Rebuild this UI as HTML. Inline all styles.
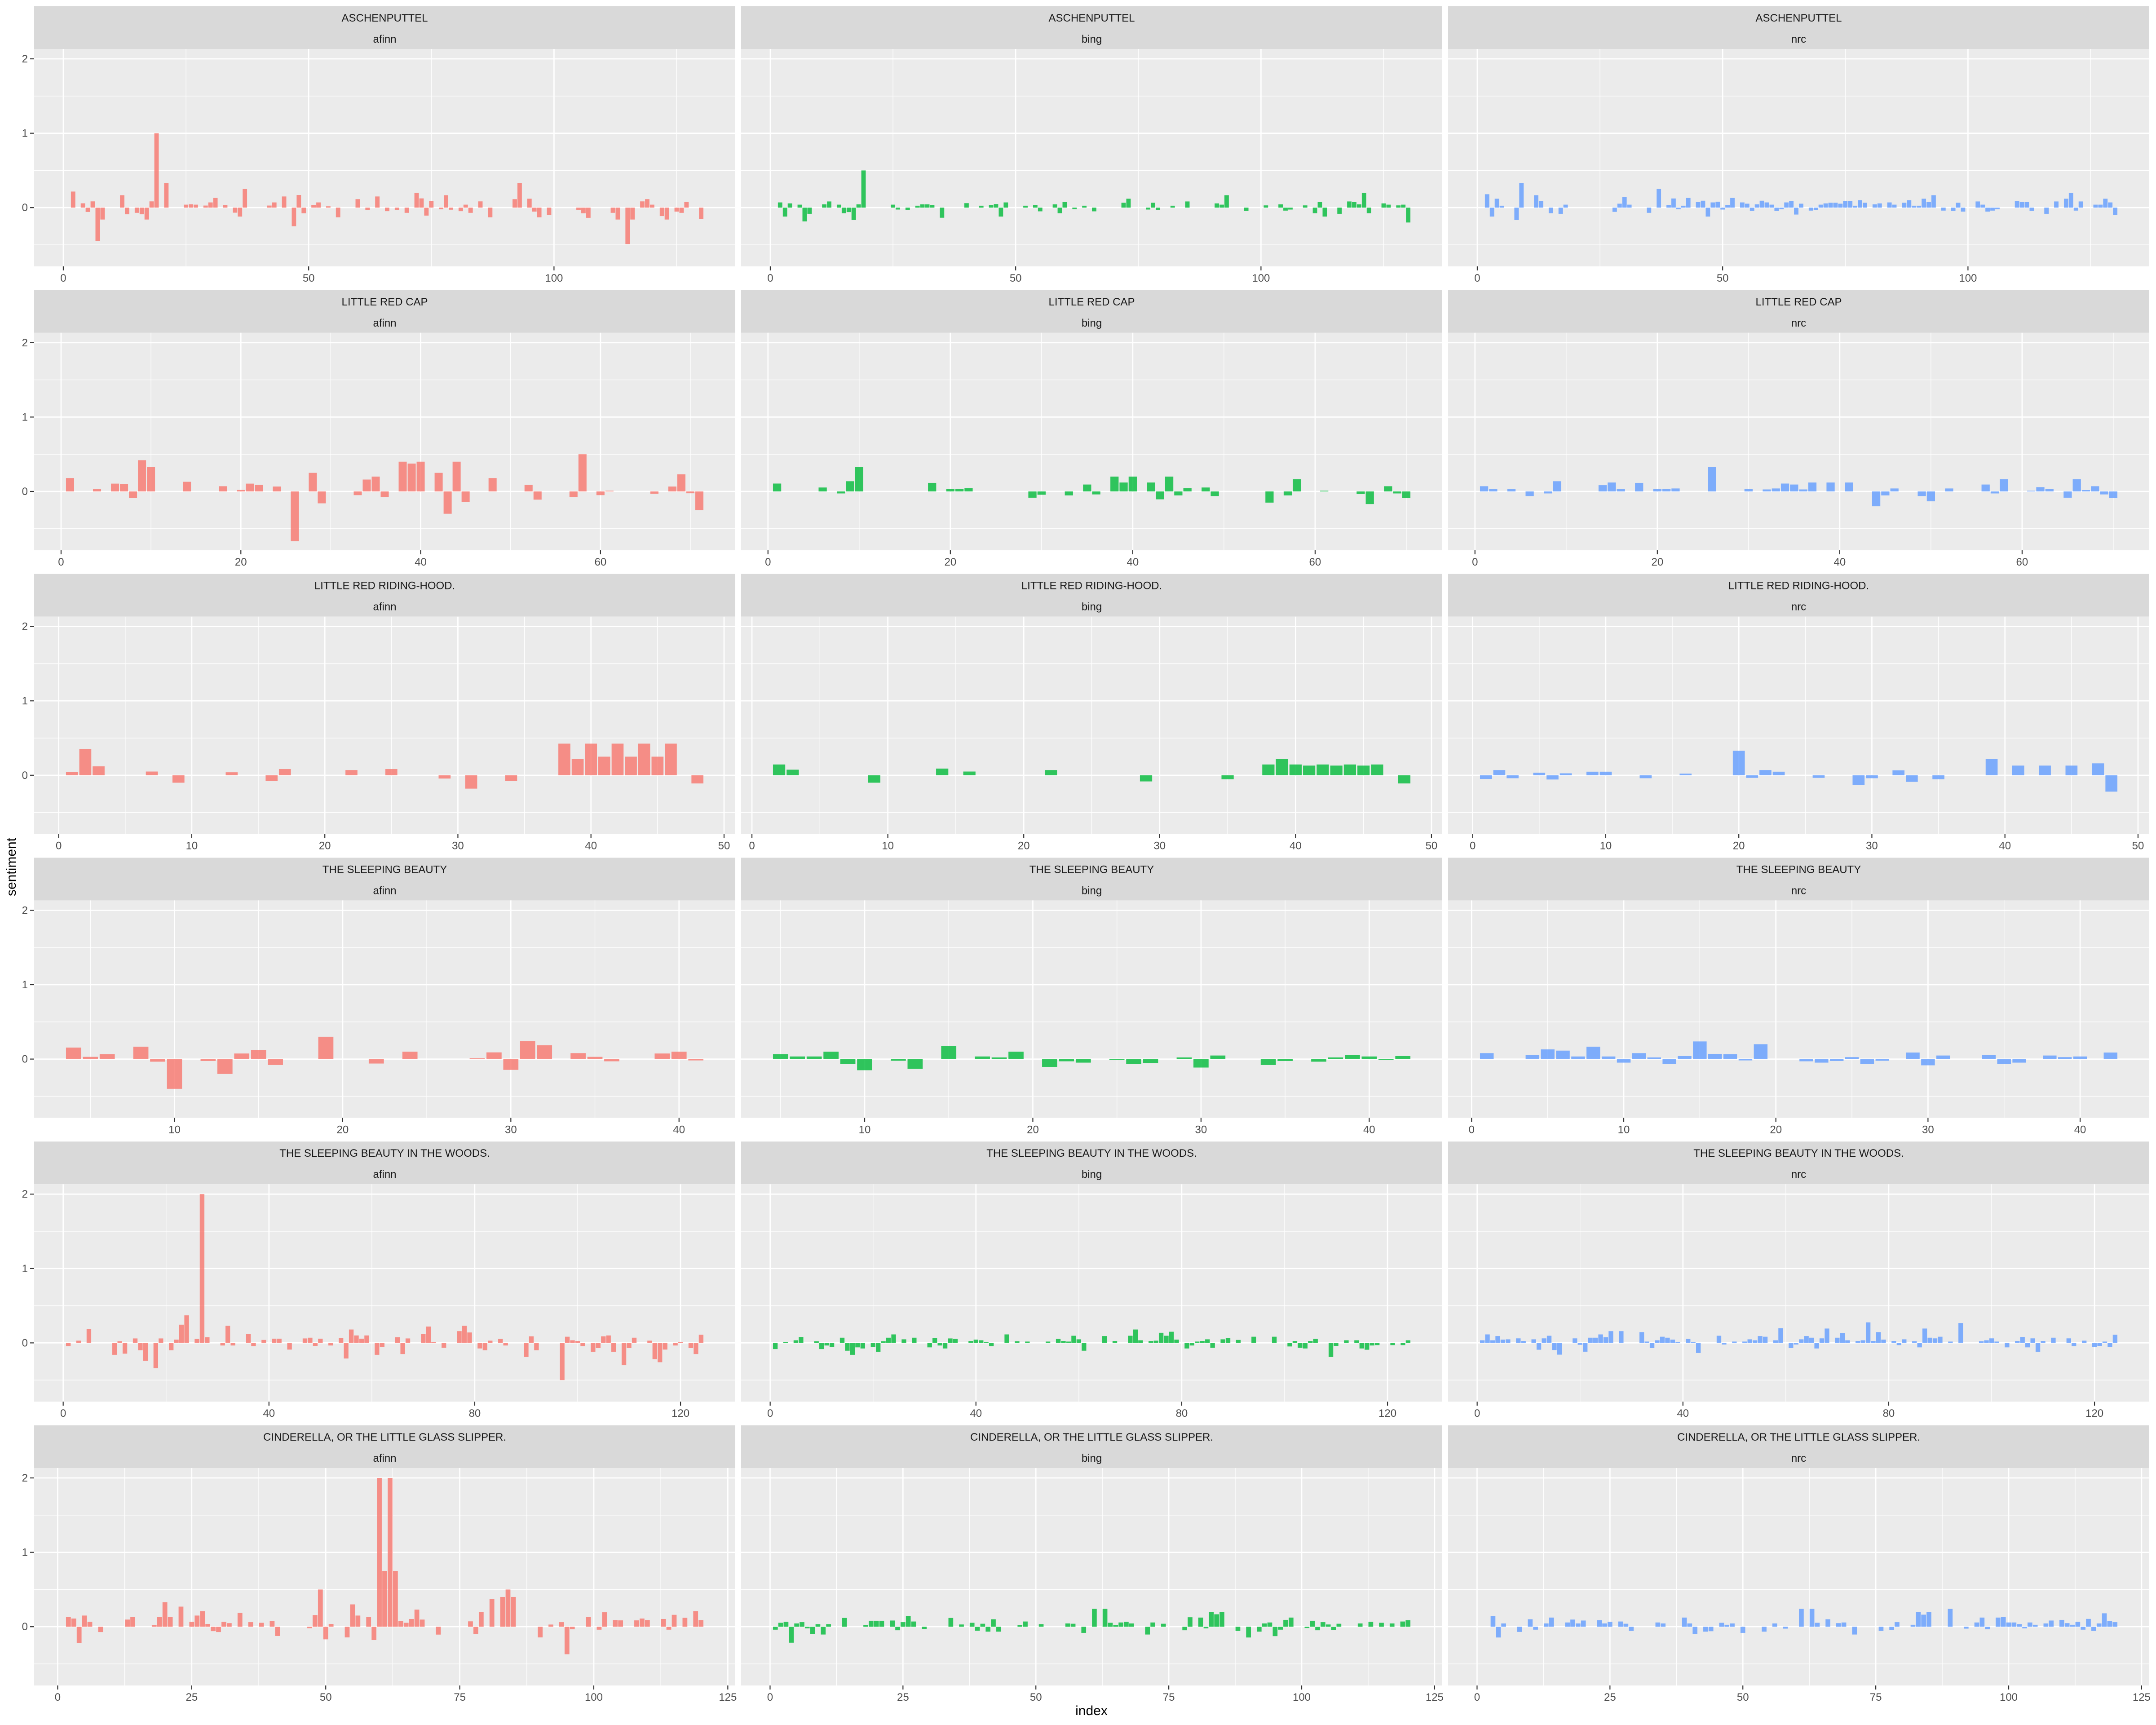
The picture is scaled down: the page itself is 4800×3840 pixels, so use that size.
<!DOCTYPE html>
<html><head><meta charset="utf-8"><title>Sentiment by index</title>
<style>
html,body{margin:0;padding:0;background:#fff;}
svg{display:block;font-family:"Liberation Sans",Arial,sans-serif;}
</style></head>
<body>
<svg id="chart" xmlns="http://www.w3.org/2000/svg" width="4800" height="3840" viewBox="0 0 4800 3840">
<rect x="0" y="0" width="4800" height="3840" fill="#ffffff"/>
<text x="2430" y="3818" font-size="30" text-anchor="middle" fill="#000">index</text>
<text x="0" y="0" font-size="30" text-anchor="middle" fill="#000" transform="translate(35,1930) rotate(-90)">sentiment</text>
<g id="panels"></g>
</svg>
<script>
// ---- data: [index, sentiment] per story / lexicon ----
const stories = ["ASCHENPUTTEL","LITTLE RED CAP","LITTLE RED RIDING-HOOD.","THE SLEEPING BEAUTY","THE SLEEPING BEAUTY IN THE WOODS.","CINDERELLA, OR THE LITTLE GLASS SLIPPER."];
const lexicons = ["afinn","bing","nrc"];
const xTickStep = [50,20,10,10,40,25];
const yTicks = [0,1,2];
const yMinor = [-0.5,0.5,1.5];

const r1_afinn=[[1,0],[2,.216],[4,.058],[5,-.058],[6,.084],[7,-.45],[8,-.16],[12,.167],[13,-.09],[15,-.07],[16,-.09],[17,-.16],[18,.084],[19,1],[21,.33],[25,.04],[26,.045],[27,.04],[29,.028],[30,.07],[31,.13],[33,.035],[35,-.068],[36,-.12],[37,.25],[42,.028],[43,.07],[45,.15],[47,-.25],[48,.17],[49,-.076],[51,.035],[52,.07],[54,.018],[56,-.13],[60,.114],[62,-.035],[64,.15],[66,-.048],[68,-.035],[70,-.07],[72,.2],[73,.124],[74,-.107],[75,.09],[77,-.023],[78,.167],[79,-.028],[81,-.048],[82,.04],[83,-.07],[85,.084],[87,-.13],[92,.114],[93,.33],[95,.12],[96,-.053],[97,-.13],[99,-.1],[105,-.035],[106,-.076],[107,-.137],[112,-.07],[113,-.16],[115,-.49],[116,-.16],[118,.084],[119,.114],[120,.04],[122,-.114],[123,-.16],[125,-.053],[126,-.07],[127,.076],[130,-.15]];
const r1_bing=[[1,0],[2,.07],[3,-.12],[4,.057],[6,.04],[7,-.185],[8,-.083],[11,.044],[12,.083],[14,.04],[15,-.075],[16,-.06],[17,-.167],[18,.044],[19,.5],[25,.04],[26,-.026],[28,-.035],[30,.026],[31,.044],[32,.044],[33,.035],[35,-.136],[40,.06],[43,.026],[45,.035],[46,.048],[47,-.12],[48,.07],[52,.026],[54,.035],[55,-.05],[58,.044],[59,-.075],[60,.075],[62,-.02],[64,.026],[66,-.05],[72,.066],[73,.12],[77,-.026],[78,.066],[79,-.035],[82,.026],[85,.083],[91,.057],[92,.04],[93,.167],[97,-.044],[101,.03],[104,.044],[105,-.04],[106,-.026],[109,.03],[111,-.075],[112,.075],[113,-.12],[116,-.083],[118,.083],[119,.075],[120,.044],[121,.2],[122,-.075],[125,.057],[126,.04],[128,.03],[129,.04],[130,-.2]];
const r1_nrc=[[1,0],[2,.18],[3,-.12],[4,.12],[5,.026],[8,-.167],[9,.33],[12,.167],[13,.088],[15,-.075],[17,-.083],[18,.04],[28,-.057],[29,.053],[30,.14],[31,.04],[35,-.07],[37,.25],[39,.035],[40,.123],[41,-.022],[42,.026],[43,.13],[45,.075],[46,.093],[47,-.12],[48,.07],[49,.08],[50,-.026],[51,.035],[52,.13],[54,.07],[55,.053],[56,-.044],[57,.044],[58,.093],[59,.07],[60,.04],[61,-.044],[62,-.022],[63,.07],[64,.088],[65,-.093],[66,.053],[68,-.04],[69,-.035],[70,.04],[71,.057],[72,.066],[73,.066],[74,.053],[75,.088],[76,.088],[77,.026],[78,.1],[79,.066],[81,.044],[82,.057],[84,.07],[85,.04],[87,.066],[88,.1],[89,.026],[90,.026],[91,.12],[92,.075],[93,.167],[95,-.04],[97,-.044],[98,.066],[99,-.053],[102,.083],[103,.04],[104,-.053],[105,-.04],[106,-.022],[110,.088],[111,.075],[112,.075],[113,-.044],[116,-.083],[118,.083],[120,.12],[121,.2],[122,-.04],[123,.083],[126,.04],[127,.04],[128,.12],[129,.07],[130,-.1]];

const r2_afinn=[[1,.18],[4,.03],[6,.105],[7,.1],[8,-.09],[9,.42],[10,.33],[14,.13],[18,.07],[20,.02],[21,.105],[22,.09],[24,.066],[26,-.67],[28,.25],[29,-.16],[33,-.05],[34,.16],[35,.2],[36,-.075],[38,.4],[39,.375],[40,.4],[42,.25],[43,-.3],[44,.4],[45,-.14],[48,.18],[52,.09],[53,-.11],[57,-.075],[58,.5],[60,-.05],[61,.01],[66,-.03],[68,.066],[69,.23],[70,-.025],[71,-.25]];
const r2_bing=[[1,.106],[6,.053],[8,-.027],[9,.137],[10,.33],[18,.115],[20,.035],[21,.035],[22,.044],[29,-.084],[30,-.044],[33,-.053],[35,.093],[36,-.04],[38,.2],[39,.12],[40,.2],[42,.12],[43,-.106],[44,.2],[45,-.053],[46,.044],[48,.053],[49,-.062],[55,-.15],[57,-.053],[58,.164],[61,.01],[65,-.035],[66,-.17],[68,.07],[69,-.027],[70,-.088]];
const r2_nrc=[[1,.07],[2,.03],[4,.03],[6,-.062],[8,-.027],[9,.137],[14,.084],[15,.12],[16,.03],[18,.115],[20,.035],[21,.035],[22,.04],[26,.33],[30,.035],[32,.027],[33,.04],[34,.106],[35,.093],[36,.027],[37,.12],[39,.12],[41,.12],[44,-.2],[45,-.053],[46,.04],[49,-.062],[50,-.133],[52,.04],[56,.093],[57,-.027],[58,.164],[61,.01],[62,.058],[63,.035],[65,-.084],[66,.164],[67,.018],[68,.07],[69,-.04],[70,-.088]];

const r3_afinn=[[1,.044],[2,.355],[3,.12],[7,.05],[9,-.1],[13,.04],[16,-.075],[17,.083],[22,.07],[25,.083],[29,-.044],[31,-.18],[34,-.075],[38,.425],[39,.22],[40,.425],[41,.25],[42,.425],[43,.25],[44,.425],[45,.25],[46,.425],[48,-.11]];
const r3_bing=[[2,.145],[3,.075],[9,-.1],[14,.09],[16,.05],[22,.07],[29,-.083],[35,-.053],[38,.145],[39,.22],[40,.145],[41,.13],[42,.145],[43,.13],[44,.145],[45,.13],[46,.145],[48,-.11]];
const r3_nrc=[[1,-.05],[2,.07],[3,-.04],[5,.035],[6,-.057],[7,.026],[9,.048],[10,.048],[13,-.04],[16,.022],[20,.33],[21,-.035],[22,.07],[23,.048],[26,-.035],[29,-.13],[30,-.04],[32,.066],[33,-.088],[35,-.053],[39,.22],[41,.13],[43,.13],[45,.13],[47,.16],[48,-.22]];

const r4_afinn=[[4,.155],[5,.03],[6,.066],[8,.167],[9,-.035],[10,-.4],[12,-.026],[13,-.2],[14,.075],[15,.12],[16,-.08],[19,.3],[22,-.06],[24,.1],[28,.01],[29,.09],[30,-.145],[31,.24],[32,.185],[34,.08],[35,.03],[36,-.03],[39,.075],[40,.1],[41,-.018]];
const r4_bing=[[5,.066],[6,.035],[7,.035],[8,.1],[9,-.066],[10,-.15],[12,-.022],[13,-.13],[15,.175],[17,.035],[18,.022],[19,.1],[21,-.105],[22,-.03],[23,-.048],[25,-.01],[26,-.066],[27,-.053],[29,.022],[30,-.114],[31,.048],[34,-.08],[35,-.026],[37,-.035],[38,.022],[39,.053],[40,.035],[41,-.01],[42,.04]];
const r4_nrc=[[1,.08],[4,.053],[5,.13],[6,.114],[7,.035],[8,.167],[9,.035],[10,-.048],[11,.08],[12,.022],[13,-.066],[14,.04],[15,.237],[16,.07],[17,.066],[18,-.018],[19,.2],[22,-.03],[23,-.048],[24,-.026],[25,.026],[26,-.066],[27,-.022],[29,.088],[30,-.084],[31,.048],[34,.053],[35,-.066],[36,-.048],[38,.048],[39,.026],[40,.035],[42,.088]];

const r5_afinn=[[1,-.044],[3,.03],[5,.185],[10,-.16],[11,.022],[12,-.145],[14,.06],[15,-.1],[16,-.24],[18,-.34],[19,.06],[21,-.1],[22,.044],[23,.245],[24,.37],[26,.053],[27,2],[28,.075],[31,-.035],[32,.23],[33,-.035],[36,.12],[37,-.044],[39,.04],[41,.057],[42,.057],[44,-.09],[47,.06],[48,.07],[49,-.04],[50,.057],[52,-.035],[54,.066],[55,-.21],[56,.18],[57,.1],[58,.057],[59,.1],[61,-.16],[62,-.057],[65,.075],[66,-.15],[67,.06],[70,.123],[71,.22],[72,.013],[74,-.066],[77,.158],[78,.23],[79,.14],[81,-.075],[82,-.1],[83,.03],[85,.053],[86,-.035],[90,-.19],[91,.088],[92,-.1],[97,-.5],[98,.083],[99,.035],[100,.026],[101,-.044],[103,-.12],[104,-.07],[105,.088],[106,.1],[107,-.12],[109,-.3],[110,-.07],[111,.07],[114,.03],[115,-.22],[116,-.26],[117,-.09],[119,-.035],[120,.013],[122,-.07],[123,-.15],[124,.11]];
const r5_bing=[[1,-.083],[3,.013],[5,.035],[6,.08],[9,.022],[10,-.083],[11,-.035],[12,-.057],[14,.07],[15,-.105],[16,-.16],[17,-.06],[18,-.075],[20,-.057],[21,-.12],[22,.022],[23,.07],[24,.114],[26,.048],[28,.07],[31,-.06],[32,.066],[33,-.035],[34,-.075],[35,.06],[36,.053],[39,.026],[40,.044],[41,.035],[42,.01],[43,-.044],[46,.114],[48,.022],[50,.018],[54,.018],[56,.053],[57,.026],[58,.018],[59,.096],[60,.048],[61,-.105],[65,.092],[67,.026],[70,.096],[71,.18],[72,.035],[74,.026],[75,.03],[76,.136],[77,.096],[78,.15],[79,.044],[81,-.075],[82,-.035],[83,.018],[84,.026],[85,.048],[86,-.066],[88,.048],[89,.066],[91,.04],[94,.083],[98,.083],[101,-.048],[102,.026],[103,-.066],[104,-.075],[105,.026],[106,.053],[109,-.19],[110,-.04],[112,.035],[114,.035],[115,-.075],[116,-.092],[117,-.035],[118,-.03],[121,-.03],[123,-.03],[124,.035]];
const r5_nrc=[[1,.035],[2,.114],[3,.035],[4,.092],[5,.044],[6,.048],[8,.061],[9,.026],[11,.048],[12,-.092],[13,.061],[14,.096],[15,-.096],[16,-.158],[19,.061],[20,-.026],[21,-.118],[22,.07],[23,.07],[24,.114],[25,.075],[26,.158],[28,.158],[32,.145],[33,.018],[34,-.07],[35,.035],[36,.083],[37,.07],[38,.044],[39,.01],[41,.053],[42,.01],[43,-.136],[47,.096],[48,-.022],[50,.018],[52,.018],[53,.048],[54,.035],[55,.092],[56,.083],[58,.035],[59,.197],[61,-.07],[62,-.022],[63,.048],[64,.092],[65,.07],[66,-.075],[67,.061],[68,.193],[70,.07],[71,.13],[72,.035],[74,.026],[75,.035],[76,.276],[77,.026],[78,.145],[79,.044],[81,.026],[82,-.03],[83,.048],[85,.022],[86,-.06],[87,.193],[88,.07],[89,.061],[90,.083],[92,.018],[94,.267],[98,.022],[99,.035],[100,.061],[101,.018],[103,-.06],[105,.026],[106,.08],[107,-.06],[108,.061],[109,-.12],[110,.026],[112,.07],[115,.061],[116,-.044],[118,.03],[120,-.053],[121,-.04],[122,.018],[123,-.053],[124,.11]];

const r6_afinn=[[2,.128],[3,.11],[4,-.22],[5,.15],[6,.066],[8,-.072],[13,.096],[14,.128],[18,.024],[19,.128],[20,.33],[21,.128],[23,.27],[25,.066],[26,.15],[27,.21],[28,.037],[29,-.06],[30,-.072],[31,.066],[32,.048],[34,.186],[36,.061],[38,.053],[40,.077],[41,-.125],[47,-.02],[48,.157],[49,.5],[50,-.17],[51,.037],[54,-.144],[55,.3],[56,.15],[58,.128],[59,-.18],[60,2],[61,.75],[62,2],[63,.75],[64,.077],[65,.053],[66,.104],[67,.23],[68,.096],[71,-.106],[77,.072],[78,-.1],[79,.2],[81,.375],[83,.4],[84,.5],[85,.4],[90,-.144],[92,.029],[94,.061],[95,-.37],[96,-.035],[99,.133],[101,-.04],[102,.194],[104,.09],[105,.085],[108,.085],[109,.11],[110,.09],[113,.104],[114,-.04],[115,.16],[117,.12],[119,.21],[120,.09]];
const r6_bing=[[1,-.04],[2,.053],[3,.066],[4,-.215],[5,.044],[6,.061],[7,-.022],[8,-.1],[9,.035],[10,-.105],[11,.035],[14,.118],[18,.022],[19,.08],[20,.08],[21,.08],[23,.083],[24,-.048],[25,.061],[26,.145],[27,.07],[29,-.03],[34,.118],[36,.03],[38,.053],[39,-.053],[40,.04],[41,-.066],[42,.1],[43,-.066],[47,.022],[48,.07],[51,.035],[56,.044],[57,.04],[59,-.083],[61,.24],[63,.24],[64,.053],[65,.022],[66,.057],[67,.066],[68,.044],[71,-.105],[72,.057],[74,.04],[78,-.048],[79,.127],[81,.123],[82,-.022],[83,.197],[84,.167],[85,.197],[88,-.057],[90,-.145],[92,-.066],[93,.044],[94,.057],[95,-.127],[96,-.04],[97,.092],[98,.123],[101,-.018],[102,.08],[103,-.048],[104,.061],[105,.03],[106,-.044],[107,.04],[111,.044],[113,.066],[115,.053],[117,.044],[119,.07],[120,.088]];
const r6_nrc=[[1,0],[3,.145],[4,-.145],[5,.044],[8,-.07],[10,.1],[11,-.04],[13,.044],[14,.123],[17,.057],[18,.096],[19,.044],[20,.083],[23,.088],[24,.044],[25,.066],[27,.07],[28,.04],[29,-.057],[34,.057],[35,.044],[39,.123],[40,.044],[41,-.096],[43,-.066],[44,-.061],[46,.053],[47,.026],[48,.044],[50,-.083],[54,-.066],[56,.044],[58,-.026],[61,.24],[63,.24],[64,.053],[66,.1],[68,.048],[69,.057],[71,-.105],[76,-.057],[78,-.044],[79,.061],[82,.026],[83,.197],[84,.162],[85,.197],[89,.24],[92,-.026],[94,.057],[95,.123],[96,-.035],[98,.123],[99,.13],[100,.057],[101,.057],[102,.035],[103,-.022],[104,.057],[105,.026],[107,.044],[108,.083],[110,.092],[111,.048],[112,.026],[113,.066],[114,-.04],[115,.105],[116,-.057],[117,.044],[118,.18],[119,.075],[120,.061]];

const panelData = [[r1_afinn,r1_bing,r1_nrc],[r2_afinn,r2_bing,r2_nrc],[r3_afinn,r3_bing,r3_nrc],[r4_afinn,r4_bing,r4_nrc],[r5_afinn,r5_bing,r5_nrc],[r6_afinn,r6_bing,r6_nrc]];
const lexColors = {afinn:"#F8766D",bing:"#00BA38",nrc:"#619CFF"};

// ---- layout ----
const NS="http://www.w3.org/2000/svg";
const colX=[76,1650,3224], PW=1561, ROWP=631.8, STRIP=95, PH=484;
const Y0=-0.79, Y1=2.133;
const root=document.getElementById('panels');
function mk(tag,attrs,parent){const e=document.createElementNS(NS,tag);for(const k in attrs)e.setAttribute(k,attrs[k]);parent.appendChild(e);return e;}

panelData.forEach((row,r)=>{
  row.forEach((data,c)=>{
    const lex=lexicons[c];
    const px=colX[c], sTop=14+ROWP*r, pTop=sTop+STRIP;
    const g=mk('g',{},root);
    
    
    // strip
    const st=mk('rect',{x:px,y:sTop,width:PW,height:STRIP,fill:'#D9D9D9'},g);
    
    
    const t1=mk('text',{x:px+PW/2,y:sTop+34,'font-size':24,'text-anchor':'middle',fill:'#1A1A1A'},g);
    t1.textContent=stories[r];
    
    
    const t2=mk('text',{x:px+PW/2,y:sTop+81,'font-size':24,'text-anchor':'middle',fill:'#1A1A1A'},g);
    t2.textContent=lex;
    
    
    // background
    const bg=mk('rect',{x:px,y:pTop,width:PW,height:PH,fill:'#EBEBEB'},g);
    
    
    // scales
    const idxs=data.map(d=>d[0]);
    const lo=Math.min(...idxs)-0.45, hi=Math.max(...idxs)+0.45, w=hi-lo;
    const d0=lo-0.05*w, d1=hi+0.05*w;
    const sx=v=>px+(v-d0)/(d1-d0)*PW;
    const sy=v=>pTop+(Y1-v)/(Y1-Y0)*PH;
    // grid
    yMinor.forEach(v=>{const l=mk('line',{x1:px,x2:px+PW,y1:sy(v),y2:sy(v),stroke:'#fff','stroke-width':1.3},g);});
    const step=xTickStep[r];
    const majors=[], minors=[];
    for(let v=Math.ceil(d0/(step/2))*(step/2); v<=d1; v+=step/2){
      if(Math.abs(v/step-Math.round(v/step))<1e-9) majors.push(v); else minors.push(v);
    }
    minors.forEach(v=>{const l=mk('line',{x1:sx(v),x2:sx(v),y1:pTop,y2:pTop+PH,stroke:'#fff','stroke-width':1.3},g);});
    yTicks.forEach(v=>{const l=mk('line',{x1:px,x2:px+PW,y1:sy(v),y2:sy(v),stroke:'#fff','stroke-width':2.7},g);});
    majors.forEach(v=>{const l=mk('line',{x1:sx(v),x2:sx(v),y1:pTop,y2:pTop+PH,stroke:'#fff','stroke-width':2.7},g);});
    // bars
    data.forEach(d=>{
      const v=d[1]; if(v===0) return;
      const yA=sy(Math.max(0,v)), yB=sy(Math.min(0,v));
      const b=mk('rect',{x:sx(d[0]-0.45),y:yA,width:sx(d[0]+0.45)-sx(d[0]-0.45),height:Math.max(0.8,yB-yA),fill:lexColors[lex],'fill-opacity':0.8},g);
      
      
    });
    // x axis ticks
    majors.forEach(v=>{
      const tk=mk('line',{x1:sx(v),x2:sx(v),y1:pTop+PH,y2:pTop+PH+9,stroke:'#333','stroke-width':2.2},g);
      
      
      const tl=mk('text',{x:sx(v),y:pTop+PH+34,'font-size':24,'text-anchor':'middle',fill:'#4D4D4D'},g);
      tl.textContent=String(v);
      
      
    });
    // y axis on left column
    if(c===0){
      yTicks.forEach(v=>{
        const tk=mk('line',{x1:px-9,x2:px,y1:sy(v),y2:sy(v),stroke:'#333','stroke-width':2.2},g);
        
        
        const tl=mk('text',{x:px-14,y:sy(v)+8,'font-size':24,'text-anchor':'end',fill:'#4D4D4D'},g);
        tl.textContent=String(v);
        
        
      });
    }
  });
});
</script>
</body></html>
